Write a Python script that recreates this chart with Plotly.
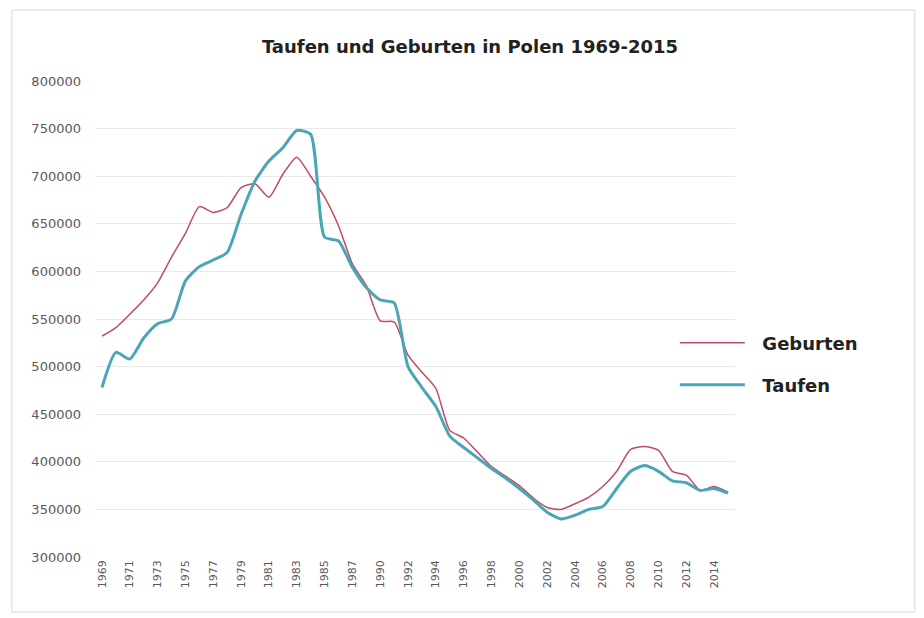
import plotly.graph_objects as go

years = [str(y) for y in range(1969, 1989)] + [str(y) for y in range(1990, 2016)]

geburten = [532000, 541000, 555000, 570000, 588000, 615000, 640000, 668000, 662000, 667000,
            688000, 692000, 678000, 702000, 720000, 700000, 678000, 648000, 608000, 585000,
            548000, 547000, 512000, 494000, 477000, 433000, 425000, 410000, 395000, 385000,
            375000, 362000, 352000, 350000, 356000, 363000, 374000, 390000, 413000, 416000,
            412000, 390000, 386000, 370000, 374000, 368000]

taufen = [478000, 515000, 508000, 530000, 545000, 550000, 590000, 605000, 612000, 620000,
          660000, 695000, 716000, 730000, 748000, 744000, 636000, 632000, 604000, 583000,
          570000, 567000, 500000, 478000, 458000, 427000, 415000, 404000, 393000, 383000,
          372000, 360000, 347000, 340000, 344000, 350000, 353000, 372000, 390000, 396000,
          390000, 380000, 378000, 370000, 372000, 367000]

y_ticks = [300000, 350000, 400000, 450000, 500000, 550000, 600000, 650000, 700000, 750000, 800000]
x_ticks = years[::2]

FONT = "DejaVu Sans, Verdana, sans-serif"
PAD = "\u00a0\u00a0"

fig = go.Figure()
fig.add_trace(go.Scatter(x=years, y=geburten, name=PAD + "Geburten", mode="lines",
                         line=dict(color="#c24a62", width=1.5, shape="spline", smoothing=0.6),
                         legend="legend"))
fig.add_trace(go.Scatter(x=years, y=taufen, name=PAD + "Taufen", mode="lines",
                         line=dict(color="#4aa6b4", width=3, shape="spline", smoothing=0.6),
                         legend="legend2"))

leg_common = dict(xanchor="left", yanchor="middle", bgcolor="rgba(0,0,0,0)", itemwidth=65,
                  font=dict(size=18, color="#222222", family=FONT, weight="bold"))

fig.update_layout(
    width=924, height=618,
    paper_bgcolor="white", plot_bgcolor="white",
    margin=dict(l=87, r=197, t=73, b=69),
    font=dict(family=FONT, color="#595959"),
    title=dict(text="<b>Taufen und Geburten in Polen 1969-2015</b>", x=0.5, xanchor="center",
               y=0.937, yanchor="middle", font=dict(size=18, color="#222222", family=FONT)),
    legend=dict(x=0.906, y=0.4496, **leg_common),
    legend2=dict(x=0.906, y=0.3613, **leg_common),
    showlegend=True,
)
fig.update_xaxes(type="category", categoryorder="array", categoryarray=years,
                 tickmode="array", tickvals=x_ticks, ticktext=x_ticks, tickangle=-90,
                 tickfont=dict(size=11, color="#595959", family=FONT), showgrid=False, showline=False,
                 ticks="", range=[-0.5, len(years) - 0.5])
fig.update_yaxes(range=[300000, 800000], tickmode="array", tickvals=y_ticks,
                 ticktext=[str(v) for v in y_ticks], tickfont=dict(size=13, color="#595959", family=FONT),
                 showgrid=True, gridcolor="#e9e9e9", gridwidth=1, zeroline=False,
                 showline=False, ticks="", ticklabelstandoff=13)

fig.add_shape(type="rect", xref="paper", yref="paper", x0=-0.13, x1=1.281, y0=-0.1155, y1=1.149,
              line=dict(color="#d9d9d9", width=1), fillcolor="rgba(0,0,0,0)", layer="below")

fig.write_html("out.html")
